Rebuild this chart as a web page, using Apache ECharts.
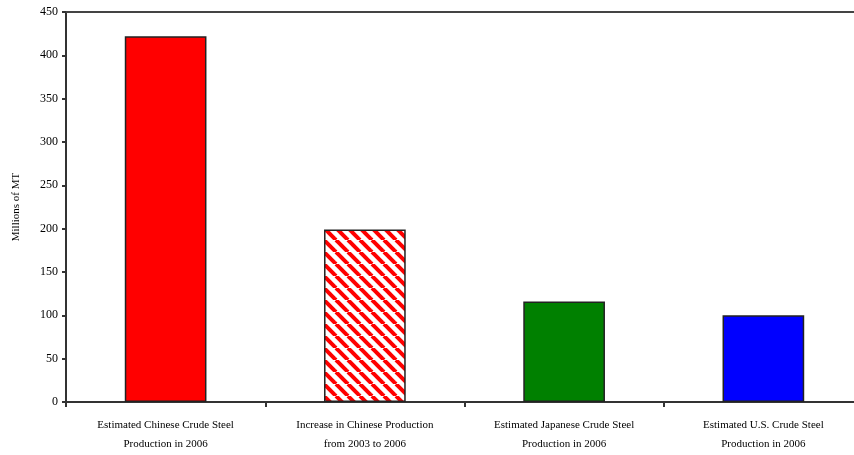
<!DOCTYPE html>
<html>
<head>
<meta charset="utf-8">
<script src="https://cdn.jsdelivr.net/npm/echarts@6/dist/echarts.min.js"></script>
<style>
  html, body { margin: 0; padding: 0; background: #fff; overflow: hidden; }
  #chart { width: 863px; height: 455px; }
</style>
</head>
<body>
<div id="chart"></div>
<script>
// Crude steel production, millions of metric tons
const categories = [
  'Estimated Chinese Crude Steel\nProduction in 2006',
  'Increase in Chinese Production\nfrom 2003 to 2006',
  'Estimated Japanese Crude Steel\nProduction in 2006',
  'Estimated U.S. Crude Steel\nProduction in 2006'
];
const values = [422, 199, 116, 100];
const barColors = ['#ff0000', 'hatch', '#008000', '#0000ff'];
const yTicks = [0, 50, 100, 150, 200, 250, 300, 350, 400, 450];

// Diagonal red-and-white stripe fill for the "increase" bar
function makeHatch() {
  const s = 12;
  const c = document.createElement('canvas');
  c.width = s; c.height = s;
  const ctx = c.getContext('2d');
  ctx.fillStyle = '#ffffff';
  ctx.fillRect(0, 0, s, s);
  ctx.strokeStyle = '#ff0000';
  ctx.lineWidth = 4;
  for (const off of [-s, 0, s]) {
    ctx.beginPath();
    ctx.moveTo(off, 0);
    ctx.lineTo(off + s, s);
    ctx.stroke();
  }
  return c;
}
const hatch = makeHatch();

const font = '"Liberation Serif", serif';
const chart = echarts.init(document.getElementById('chart'), null, { renderer: 'canvas' });
chart.setOption({
  animation: false,
  backgroundColor: '#ffffff',
  grid: { left: 66, right: 0, top: 12, bottom: 53, containLabel: false },
  xAxis: [{
    type: 'category',
    data: categories,
    position: 'bottom',
    axisLine: { lineStyle: { color: '#333', width: 2 } },
    axisTick: { show: true, alignWithLabel: false, length: 5, lineStyle: { color: '#333', width: 2 } },
    axisLabel: { interval: 0, margin: 14, color: '#000', fontFamily: font, fontSize: 11, lineHeight: 19 }
  }, {
    type: 'category',
    data: categories,
    position: 'top',
    axisLine: { lineStyle: { color: '#444', width: 2 } },
    axisTick: { show: false },
    axisLabel: { show: false }
  }],
  yAxis: {
    type: 'value',
    min: yTicks[0],
    max: yTicks[yTicks.length - 1],
    interval: 50,
    name: 'Millions of MT',
    nameLocation: 'middle',
    nameGap: 44,
    nameTextStyle: { color: '#000', fontFamily: font, fontSize: 11 },
    axisLine: { show: true, lineStyle: { color: '#333', width: 2 } },
    axisTick: { show: true, length: 4, lineStyle: { color: '#333', width: 2 } },
    axisLabel: { color: '#000', fontFamily: font, fontSize: 12, margin: 8 },
    splitLine: { show: false }
  },
  series: [{
    type: 'bar',
    barWidth: '41%',
    data: values.map((v, i) => ({
      value: v,
      itemStyle: {
        color: barColors[i] === 'hatch' ? { image: hatch, repeat: 'repeat' } : barColors[i],
        borderColor: '#222',
        borderWidth: 1.5
      }
    }))
  }]
});
</script>
</body>
</html>
